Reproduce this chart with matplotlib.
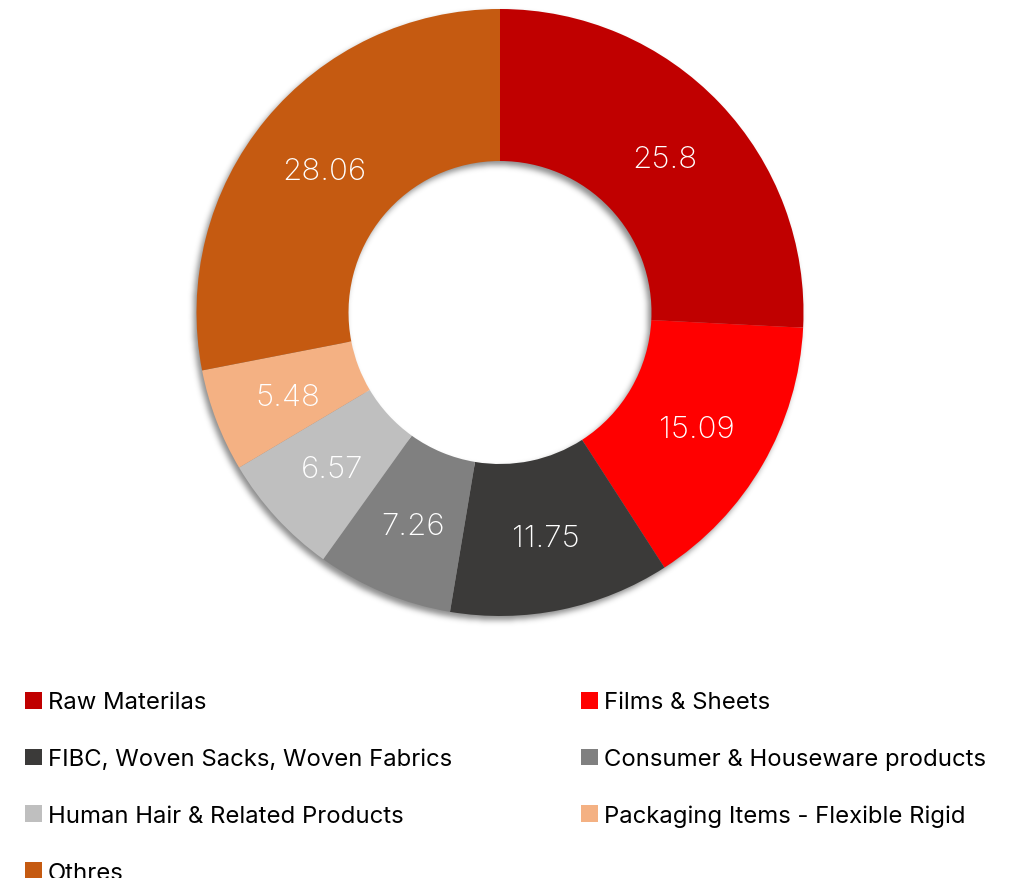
"""Donut chart of segment shares with a soft drop shadow and a two-column legend."""

import matplotlib

matplotlib.use("Agg")
import matplotlib.pyplot as plt
import numpy as np
from matplotlib.patches import Rectangle


categories = [
    "Raw Materilas",
    "Films & Sheets",
    "FIBC, Woven Sacks, Woven Fabrics",
    "Consumer & Houseware products",
    "Human Hair & Related Products",
    "Packaging Items - Flexible Rigid",
    "Othres",
]
shares = [25.8, 15.09, 11.75, 7.26, 6.57, 5.48, 28.06]
colors = ["#C00000", "#FF0000", "#3B3A39", "#808080", "#BFBFBF", "#F4B183", "#C55A11"]

W, H = 1030, 879
CENTER = (500.0, 313.5)          # in pixel coordinates, y measured from the top
R_OUT, R_IN = 303.5, 151.5


def gaussian_blur(img, sigma):
    radius = int(3 * sigma)
    k = np.exp(-0.5 * (np.arange(-radius, radius + 1) / sigma) ** 2)
    k /= k.sum()
    img = np.apply_along_axis(lambda r: np.convolve(r, k, mode="same"), 1, img)
    img = np.apply_along_axis(lambda c: np.convolve(c, k, mode="same"), 0, img)
    return img


def ring_shadow(offset=(-3.0, 4.0), sigma=3.0, strength=0.45):
    yy, xx = np.mgrid[0:H, 0:W] + 0.5
    dist = np.hypot(xx - CENTER[0] - offset[0], yy - CENTER[1] - offset[1])
    mask = ((dist <= R_OUT) & (dist >= R_IN)).astype(float)
    alpha = gaussian_blur(mask, sigma) * strength
    rgba = np.zeros((H, W, 4))
    rgba[..., 3] = alpha
    return rgba


def main() -> None:
    plt.rcParams["font.family"] = ["Inter", "DejaVu Sans"]

    fig = plt.figure(figsize=(W / 100, H / 100), dpi=100)
    ax = fig.add_axes([0, 0, 1, 1])

    ax.imshow(ring_shadow(), extent=(0, W, 0, H), origin="upper", zorder=0)

    cx, cy = CENTER[0], H - CENTER[1]
    wedges, _ = ax.pie(
        shares,
        colors=colors,
        startangle=90,
        counterclock=False,
        center=(cx, cy),
        radius=R_OUT,
        wedgeprops=dict(width=R_OUT - R_IN, linewidth=0, antialiased=True),
    )
    for w in wedges:
        w.set_zorder(2)

    label_r = (R_OUT + R_IN) / 2
    for wedge, value in zip(wedges, shares):
        mid = np.deg2rad((wedge.theta1 + wedge.theta2) / 2)
        ax.text(
            cx + label_r * np.cos(mid),
            cy + label_r * np.sin(mid) - 3,
            f"{value:g}",
            color="white",
            fontsize=22.5,
            fontweight="light",
            ha="center",
            va="center",
            zorder=3,
        )

    # legend laid out row by row in two columns
    col_x = [25, 581]
    first_baseline, row_step = 709.5, 56.7
    box = 16.5
    for i, (name, color) in enumerate(zip(categories, colors)):
        row, col = divmod(i, 2)
        base = first_baseline + row * row_step
        ax.add_patch(
            Rectangle((col_x[col], H - base), box, box, facecolor=color, edgecolor="none")
        )
        ax.text(
            col_x[col] + 23,
            H - base,
            name,
            fontsize=17.2,
            color="#000000",
            ha="left",
            va="baseline",
        )

    ax.set_xlim(0, W)
    ax.set_ylim(0, H)
    ax.set_aspect("auto")
    ax.axis("off")

    fig.savefig("out.png", dpi=100, facecolor="white")
    plt.close(fig)


if __name__ == "__main__":
    main()
